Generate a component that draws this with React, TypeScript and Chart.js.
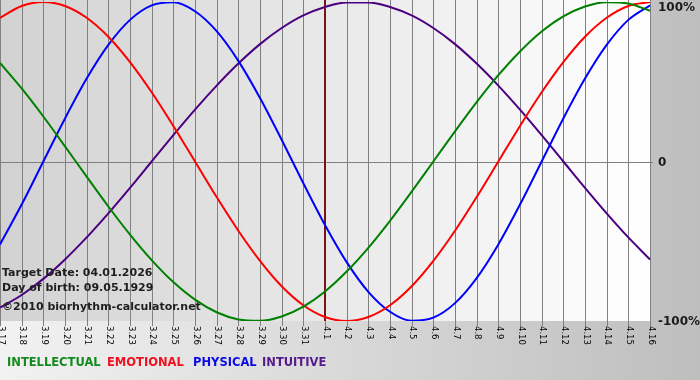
import React, { useEffect, useRef } from "react";
import { Chart, registerables } from "chart.js";

Chart.register(...registerables);

const dayLabels = [
  "3.17", "3.18", "3.19", "3.20", "3.21", "3.22", "3.23", "3.24", "3.25", "3.26",
  "3.27", "3.28", "3.29", "3.30", "3.31", "4.1", "4.2", "4.3", "4.4", "4.5",
  "4.6", "4.7", "4.8", "4.9", "4.10", "4.11", "4.12", "4.13", "4.14", "4.15", "4.16",
];

const intellectual = [61.8, 45.8, 28.2, 9.5, -9.5, -28.2, -45.8, -61.8, -75.6, -86.6, -94.5, -99.0, -99.9, -97.2, -91.0, -81.5, -69.0, -54.1, -37.2, -18.9, 0, 18.9, 37.2, 54.1, 69.0, 81.5, 91.0, 97.2, 99.9, 99.0, 94.5];
const emotional = [90.1, 97.5, 100, 97.5, 90.1, 78.2, 62.3, 43.4, 22.3, 0, -22.3, -43.4, -62.3, -78.2, -90.1, -97.5, -100, -97.5, -90.1, -78.2, -62.3, -43.4, -22.3, 0, 22.3, 43.4, 62.3, 78.2, 90.1, 97.5, 100];
const physical = [-52.0, -27.0, 0, 27.0, 52.0, 73.1, 88.8, 97.9, 99.8, 94.2, 81.7, 63.1, 39.8, 13.6, -13.6, -39.8, -63.1, -81.7, -94.2, -99.8, -97.9, -88.8, -73.1, -52.0, -27.0, 0, 27.0, 52.0, 73.1, 88.8, 97.9];
const intuitive = [-91.6, -83.7, -73.6, -61.4, -47.6, -32.5, -16.5, 0, 16.5, 32.5, 47.6, 61.4, 73.6, 83.7, 91.6, 96.9, 99.7, 99.7, 96.9, 91.6, 83.7, 73.6, 61.4, 47.6, 32.5, 16.5, 0, -16.5, -32.5, -47.6, -61.4];

const seriesNames = ["INTELLECTUAL", "EMOTIONAL", "PHYSICAL", "INTUITIVE"];
const seriesColors = ["#008000", "#ff0000", "#0000ff", "#4b0082"];
const legendColors = ["#138a1e", "#f0101e", "#0a0ae6", "#551a8b"];
const yTickValues = [100, 0, -100];
const yTickLabels = ["100%", "0", "-100%"];
const targetDay = "4.1";
const infoLines = ["Target Date: 04.01.2026", "Day of birth: 09.05.1929", "\u00a92010 biorhythm-calculator.net"];

const bioPlugin = {
  id: "bioPlugin",
  beforeDraw(chart: any) {
    const { ctx, width, height, chartArea: a } = chart;
    ctx.save();
    const g = ctx.createLinearGradient(0, 0, width, 0);
    g.addColorStop(0, "#f2f2f2");
    g.addColorStop(1, "#bebebe");
    ctx.fillStyle = g;
    ctx.fillRect(0, 0, width, height);
    const g2 = ctx.createLinearGradient(a.left, 0, a.right, 0);
    g2.addColorStop(0, "#d2d2d2");
    g2.addColorStop(1, "#ffffff");
    ctx.fillStyle = g2;
    ctx.fillRect(a.left, 0, a.right - a.left, a.bottom);
    ctx.restore();
  },
  beforeDatasetsDraw(chart: any) {
    const { ctx, chartArea: a, scales } = chart;
    const xs = scales.x;
    const ys = scales.y;
    ctx.save();
    ctx.strokeStyle = "#808080";
    ctx.lineWidth = 1;
    dayLabels.forEach((_, i) => {
      const x = Math.round(xs.getPixelForValue(i)) + 0.5;
      ctx.beginPath();
      ctx.moveTo(x, 0);
      ctx.lineTo(x, a.bottom + 5);
      ctx.stroke();
    });
    const y0 = Math.round(ys.getPixelForValue(0)) + 0.5;
    ctx.beginPath();
    ctx.moveTo(a.left, y0);
    ctx.lineTo(a.right + 3, y0);
    ctx.stroke();
    const ti = dayLabels.indexOf(targetDay);
    const tx = Math.round(xs.getPixelForValue(ti));
    ctx.strokeStyle = "#7a1414";
    ctx.lineWidth = 2;
    ctx.beginPath();
    ctx.moveTo(tx, 0);
    ctx.lineTo(tx, a.bottom);
    ctx.stroke();
    ctx.restore();
  },
  afterDraw(chart: any) {
    const { ctx, chartArea: a, scales } = chart;
    const xs = scales.x;
    const ys = scales.y;
    ctx.save();
    ctx.fillStyle = "#000000";
    ctx.font = "8.5px 'DejaVu Sans'";
    ctx.textAlign = "left";
    ctx.textBaseline = "middle";
    dayLabels.forEach((lab, i) => {
      const x = xs.getPixelForValue(i) + 1;
      ctx.save();
      ctx.translate(x, a.bottom + 5);
      ctx.rotate(Math.PI / 2);
      ctx.fillText(lab, 0, 0);
      ctx.restore();
    });
    ctx.fillStyle = "#1a1a1a";
    ctx.font = "bold 12px 'DejaVu Sans'";
    yTickValues.forEach((v, i) => {
      const y = ys.getPixelForValue(v);
      if (i === 0) {
        ctx.textBaseline = "top";
        ctx.fillText(yTickLabels[i], a.right + 8, y);
      } else {
        ctx.textBaseline = "middle";
        ctx.fillText(yTickLabels[i], a.right + 8, y + 1);
      }
    });
    ctx.font = "bold 11.5px 'DejaVu Sans'";
    ctx.textBaseline = "alphabetic";
    const legendX = [7, 107, 193, 262];
    seriesNames.forEach((name, i) => {
      ctx.fillStyle = legendColors[i];
      ctx.fillText(name, legendX[i], 366);
    });
    ctx.fillStyle = "#1e1e1e";
    ctx.font = "bold 11px 'DejaVu Sans'";
    const infoY = [276, 291, 310];
    infoLines.forEach((t, i) => {
      ctx.fillText(t, 2, infoY[i]);
    });
    ctx.restore();
  },
};

export default function App() {
  const ref = useRef<HTMLCanvasElement | null>(null);
  useEffect(() => {
    document.body.style.margin = "0";
    const canvas = ref.current;
    if (!canvas) return;
    const series = [intellectual, emotional, physical, intuitive];
    const chart = new Chart(canvas, {
      type: "line",
      data: {
        labels: dayLabels,
        datasets: series.map((d, i) => ({
          label: seriesNames[i],
          data: d,
          borderColor: seriesColors[i],
          borderWidth: 2,
          pointRadius: 0,
          cubicInterpolationMode: "monotone" as const,
          fill: false,
        })),
      },
      options: {
        animation: false,
        responsive: false,
        layout: { padding: { left: 0, top: 2, right: 50, bottom: 59 } },
        scales: {
          x: { display: false, offset: false },
          y: { display: false, min: -100, max: 100 },
        },
        plugins: { legend: { display: false }, tooltip: { enabled: false } },
      },
      plugins: [bioPlugin],
    });
    return () => chart.destroy();
  }, []);
  return (
    <div style={{ width: 700, height: 380 }}>
      <canvas ref={ref} width={700} height={380} />
    </div>
  );
}
